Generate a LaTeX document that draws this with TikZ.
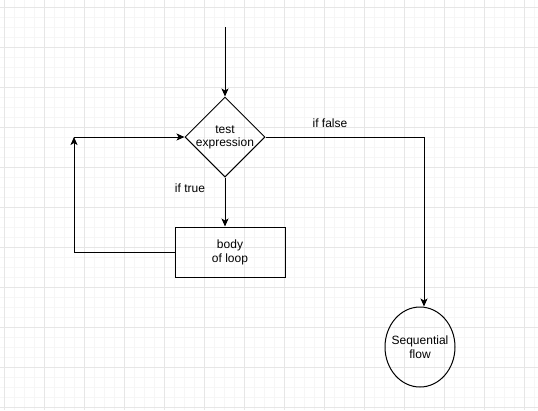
\documentclass[tikz,border=0pt]{standalone}
\usepackage{fontspec}
\setmainfont{Liberation Sans}
\usetikzlibrary{shapes.geometric, arrows.meta}
\definecolor{minorgrid}{RGB}{246,246,246}
\definecolor{majorgrid}{RGB}{230,230,230}

\begin{document}
\begin{tikzpicture}[
			x=1pt, y=-1pt, line width=1pt,
			>={Stealth[length=8pt, width=7pt, inset=2pt]},
			every label/.style={font=\fontsize{12}{14}\selectfont, align=center},
			decision/.style={draw, diamond, aspect=1, minimum size=80pt, inner sep=0pt},
			process/.style={draw, rectangle, minimum width=110pt, minimum height=50pt, align=center, font=\fontsize{12}{14}\selectfont},
			terminal/.style={draw, ellipse, minimum width=70pt, minimum height=80pt, inner sep=0pt},
			cond/.style={font=\fontsize{12}{14}\selectfont}
			]
			\useasboundingbox (0,0) rectangle (538,410);
			% grid
			\foreach \gx in {4,14,...,534} \draw[minorgrid, line width=0.8pt] (\gx,0) -- (\gx,410);
			\foreach \gy in {7,17,...,407} \draw[minorgrid, line width=0.8pt] (0,\gy) -- (538,\gy);
			\foreach \gx in {4,44,...,524} \draw[majorgrid, line width=0.8pt] (\gx,0) -- (\gx,410);
			\foreach \gy in {7,47,...,407} \draw[majorgrid, line width=0.8pt] (0,\gy) -- (538,\gy);

			\coordinate (start) at (225,27);
			\node[decision, label=center:{test\\[-1pt]expression}] (test) at (225,137) {};
			\node[process] (body) at (230,252) {body\\of loop};
			\node[terminal, label=center:{Sequential\\flow}] (seq) at (420,347) {};
			\coordinate (back) at (74,137);
			\coordinate (turn) at (424,137);
			\node[cond] (iftrue) at (190,188) {if true};
			\node[cond] (iffalse) at (330,123) {if false};

			\path[->]
			(start) edge (test.north)
			(test.south) edge (test.south |- body.north)
			(back) edge (test.west);
			\draw[->] (body.west) -- (body.west -| back) -- (back);
			\draw[->] (test.east) -- (turn) -- (turn |- seq.north);
		\end{tikzpicture}
\end{document}
